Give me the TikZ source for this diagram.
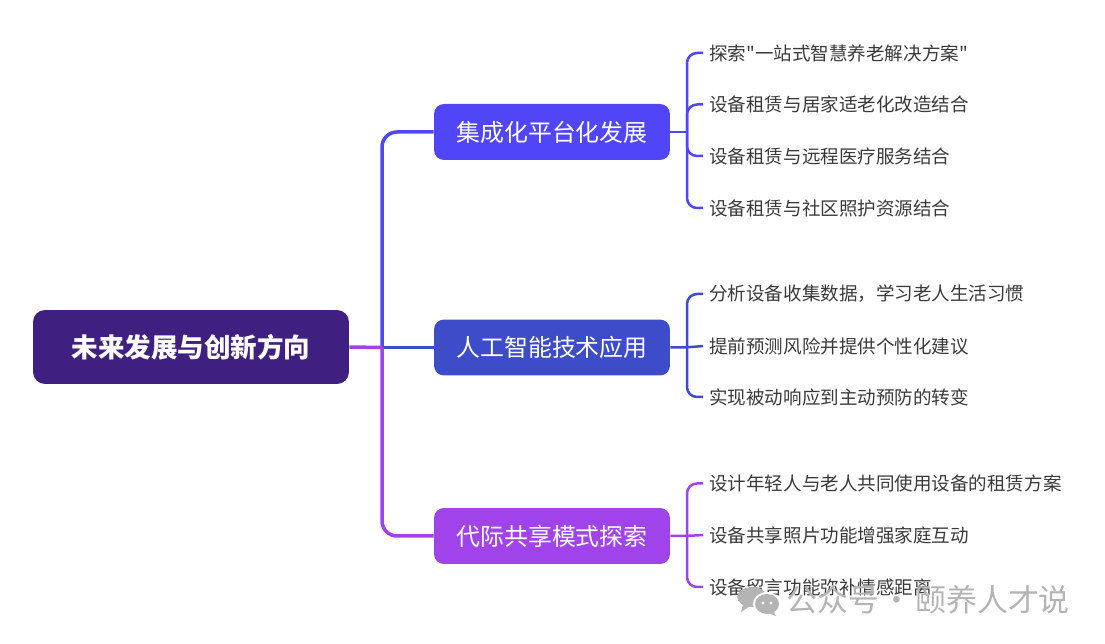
\documentclass[tikz,border=0pt]{standalone}
\usepackage{fontspec}
\usepackage{xcolor}
\setmainfont{Noto Sans CJK SC}
\newfontfamily\plaincjk{Noto Sans CJK SC}
\definecolor{rootfill}{HTML}{3F2080}
\definecolor{platblue}{HTML}{5046F8}
\definecolor{aiblue}{HTML}{3D4CC9}
\definecolor{sharepurple}{HTML}{A043EA}
\definecolor{leaftext}{HTML}{3A3A3A}
\definecolor{markgray}{HTML}{B4B4B4}
\tikzset{
  rootbox/.style={rounded corners=0.24cm,fill=rootfill,text=white,font=\fontsize{15.1}{18}\selectfont\bfseries,minimum width=6.32cm,minimum height=1.48cm,inner sep=0pt},
  branchbox/.style={rounded corners=0.2cm,text=white,font=\fontsize{13.6}{16}\selectfont,minimum width=4.72cm,minimum height=1.12cm,inner sep=0pt},
  leaf/.style={anchor=west,text=leaftext,font=\plaincjk\fontsize{10.55}{13}\selectfont,inner sep=0.12cm},
  trunkline/.style={line width=0.07cm,rounded corners=0.3cm},
  leafline/.style={line width=0.05cm,rounded corners=0.2cm}
}
\begin{document}
\begin{tikzpicture}[x=0.02cm,y=-0.02cm]
\useasboundingbox (0,0) rectangle (1105,644);
\node[rootbox] (root) at (191,347) {未来发展与创新方向};
\node[branchbox,fill=platblue] (plat) at (552,132) {集成化平台化发展};
\node[branchbox,fill=aiblue] (ai) at (552,347.5) {人工智能技术应用};
\node[branchbox,fill=sharepurple] (share) at (552,536) {代际共享模式探索};
\coordinate (hub) at (382,347.5);
\coordinate (platjoin) at (687,132);
\coordinate (aijoin) at (687,347.5);
\coordinate (sharejoin) at (687,536);

\node[leaf] (pa) at (703,53) {探索"一站式智慧养老解决方案"};
\node[leaf] (pb) at (703,104.5) {设备租赁与居家适老化改造结合};
\node[leaf] (pc) at (703,156) {设备租赁与远程医疗服务结合};
\node[leaf] (pd) at (703,208) {设备租赁与社区照护资源结合};
\node[leaf] (aa) at (703,294) {分析设备收集数据，学习老人生活习惯};
\node[leaf] (ab) at (703,346) {提前预测风险并提供个性化建议};
\node[leaf] (ac) at (703,397) {实现被动响应到主动预防的转变};
\node[leaf] (sa) at (703,483.5) {设计年轻人与老人共同使用设备的租赁方案};
\node[leaf] (sb) at (703,535) {设备共享照片功能增强家庭互动};
\node[leaf] (sc) at (703,587) {设备留言功能弥补情感距离};

\draw[trunkline,platblue] (hub) |- (plat.west);
\draw[trunkline,aiblue] (hub) -- (ai.west);
\draw[trunkline,sharepurple] (hub) |- (share.west);
\draw[trunkline,sharepurple] (root.east) -- (hub);

\draw[leafline,platblue] (plat.east) -- (platjoin);
\draw[leafline,platblue] (platjoin) |- (pa.west);
\draw[leafline,platblue] (platjoin) |- (pb.west);
\draw[leafline,platblue] (platjoin) |- (pc.west);
\draw[leafline,platblue] (platjoin) |- (pd.west);
\draw[leafline,aiblue] (ai.east) -- (aijoin) -- (ab.west);
\draw[leafline,aiblue] (aijoin) |- (aa.west);
\draw[leafline,aiblue] (aijoin) |- (ac.west);
\draw[leafline,sharepurple] (share.east) -- (sharejoin) -- (sb.west);
\draw[leafline,sharepurple] (sharejoin) |- (sa.west);
\draw[leafline,sharepurple] (sharejoin) |- (sc.west);

% watermark
\fill[markgray] (752,597) ellipse (15 and 10);
\fill[markgray] (743,604) -- (741,612) -- (750,606) -- cycle;
\fill[white] (767,604) ellipse (14 and 12);
\fill[markgray] (767,604) ellipse (12 and 10);
\fill[markgray] (773,610) -- (776,616) -- (766,612) -- cycle;
\fill[white] (763,603) circle (1.6);
\fill[white] (771,603) circle (1.6);
\node[anchor=west,inner sep=0pt,text=markgray,font=\fontsize{17.6}{20}\selectfont] (mark) at (786,600) {公众号\hspace{1.5pt}·\hspace{1.5pt}颐养人才说};
\end{tikzpicture}
\end{document}
